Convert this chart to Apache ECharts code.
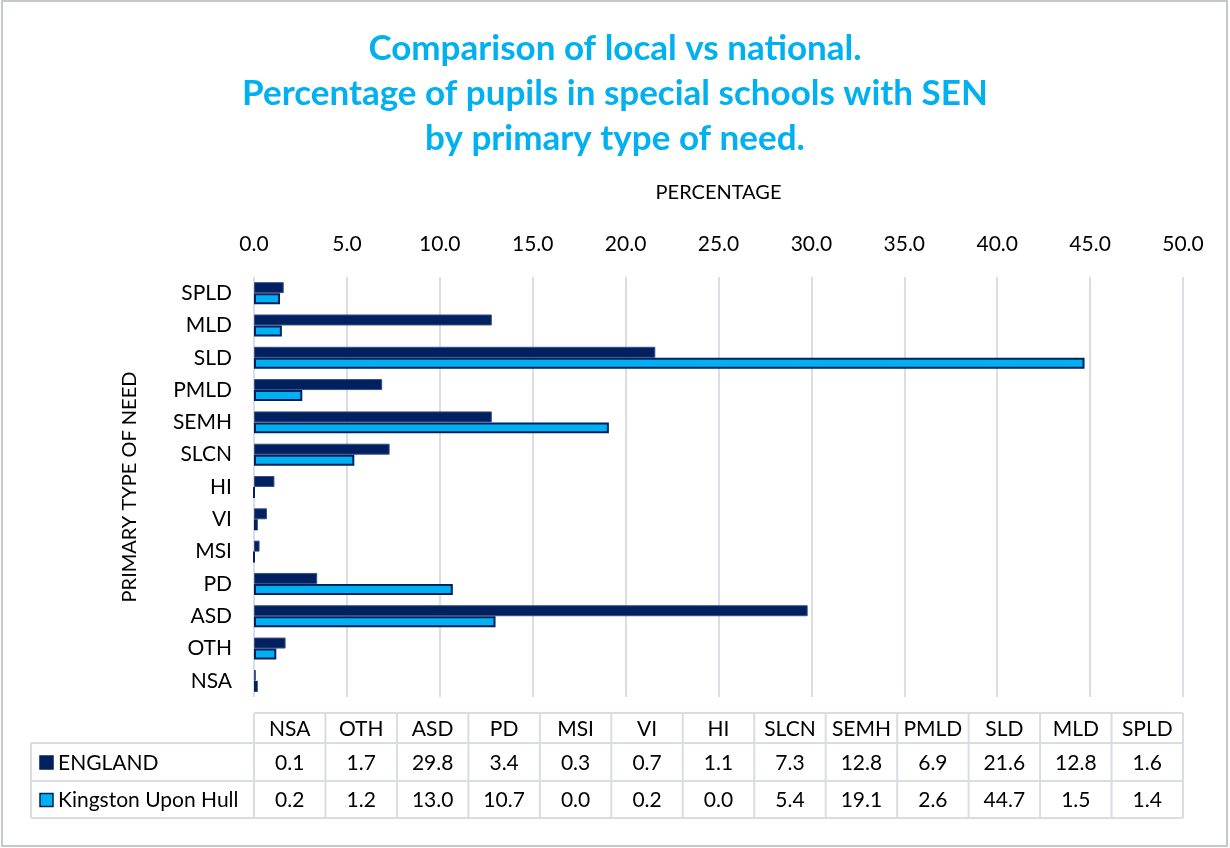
<!DOCTYPE html>
<html>
<head>
<meta charset="utf-8">
<script src="https://cdn.jsdelivr.net/npm/echarts@6/dist/echarts.min.js"></script>
<style>
  html, body { margin: 0; padding: 0; background: #fff; }
  #chart { width: 1230px; height: 848px; }
</style>
</head>
<body>
<div id="chart"></div>
<script>
// data
const categories = ['NSA', 'OTH', 'ASD', 'PD', 'MSI', 'VI', 'HI', 'SLCN', 'SEMH', 'PMLD', 'SLD', 'MLD', 'SPLD'];
const england = [0.1, 1.7, 29.8, 3.4, 0.3, 0.7, 1.1, 7.3, 12.8, 6.9, 21.6, 12.8, 1.6];
const hull = [0.2, 1.2, 13.0, 10.7, 0.0, 0.2, 0.0, 5.4, 19.1, 2.6, 44.7, 1.5, 1.4];
const seriesNames = ['ENGLAND', 'Kingston Upon Hull'];

const FONT = 'Lato, "Open Sans", sans-serif';
const DARK = '#002060';
const LIGHT = '#00B0F0';
const colors = [DARK, LIGHT];

// layout
const W = 1230, H = 848;
const gLeft = 254, gRight = 47, gTop = 277, gBottom = 151;
const plotW = W - gLeft - gRight;
const rowY = [713, 743, 781, 818];
const legendLeft = 31;

const chart = echarts.init(document.getElementById('chart'));

// data table under the plot, built from the arrays
function buildTable() {
  const els = [];
  const colW = plotW / categories.length;
  const lineStyle = { stroke: '#d9dde3', lineWidth: 2 };
  const rows = [england, hull];
  const font = '21px ' + FONT;
  // horizontal lines
  els.push({ type: 'line', shape: { x1: gLeft, y1: rowY[0], x2: gLeft + plotW, y2: rowY[0] }, style: lineStyle });
  for (let r = 1; r < rowY.length; r++) {
    els.push({ type: 'line', shape: { x1: legendLeft, y1: rowY[r], x2: gLeft + plotW, y2: rowY[r] }, style: lineStyle });
  }
  // vertical lines
  els.push({ type: 'line', shape: { x1: legendLeft, y1: rowY[1], x2: legendLeft, y2: rowY[3] }, style: lineStyle });
  for (let c = 0; c <= categories.length; c++) {
    const x = gLeft + c * colW;
    els.push({ type: 'line', shape: { x1: x, y1: rowY[0], x2: x, y2: rowY[3] }, style: lineStyle });
  }
  // header
  categories.forEach((cat, i) => {
    els.push({
      type: 'text', x: gLeft + (i + 0.5) * colW, y: (rowY[0] + rowY[1]) / 2 + 1,
      style: { text: cat, font: font, fill: '#000', align: 'center', verticalAlign: 'middle' }
    });
  });
  // value rows + legend keys
  rows.forEach((vals, r) => {
    const cy = (rowY[r + 1] + rowY[r + 2]) / 2 + 1;
    els.push({
      type: 'rect', shape: { x: 40, y: cy - 7, width: 13, height: 13 },
      style: { fill: colors[r], stroke: DARK, lineWidth: 1.5 }
    });
    els.push({
      type: 'text', x: 58, y: cy,
      style: { text: seriesNames[r], font: font, fill: '#000', align: 'left', verticalAlign: 'middle' }
    });
    vals.forEach((v, i) => {
      els.push({
        type: 'text', x: gLeft + (i + 0.5) * colW, y: cy,
        style: { text: v.toFixed(1), font: font, fill: '#000', align: 'center', verticalAlign: 'middle' }
      });
    });
  });
  // outer frame of the chart
  els.push({
    type: 'rect', shape: { x: 2, y: 1, width: W - 5, height: H - 3 },
    style: { fill: 'none', stroke: '#c4c8cc', lineWidth: 2 }, z: -1
  });
  return els;
}

const option = {
  backgroundColor: '#fff',
  animation: false,
  title: {
    text: 'Comparison of local vs national.\nPercentage of pupils in special schools with SEN\nby primary type of need.',
    left: 'center',
    top: 21,
    textStyle: { fontFamily: FONT, fontSize: 35, fontWeight: 'bold', color: LIGHT, lineHeight: 45 }
  },
  grid: { left: gLeft, right: gRight, top: gTop, bottom: gBottom, containLabel: false },
  xAxis: {
    type: 'value',
    position: 'top',
    min: 0, max: 50, interval: 5,
    name: 'PERCENTAGE',
    nameLocation: 'middle',
    nameGap: 74,
    nameTextStyle: { fontFamily: FONT, fontSize: 20, color: '#000' },
    axisLine: { show: false },
    axisTick: { show: false },
    axisLabel: { fontFamily: FONT, fontSize: 21, color: '#000', margin: 22, formatter: v => v.toFixed(1) },
    splitLine: { show: true, lineStyle: { color: '#dadde3', width: 2 } }
  },
  yAxis: {
    type: 'category',
    data: categories,
    name: 'PRIMARY TYPE OF NEED',
    nameLocation: 'middle',
    nameGap: 114,
    nameTextStyle: { fontFamily: FONT, fontSize: 20, color: '#000' },
    axisLine: { show: false },
    axisTick: { show: false },
    axisLabel: { fontFamily: FONT, fontSize: 21, color: '#000', margin: 22 },
    splitLine: { show: false }
  },
  series: [
    {
      name: seriesNames[0], type: 'bar', data: england,
      barGap: '0%', barCategoryGap: '32%',
      itemStyle: { color: DARK, borderColor: '#3a4f86', borderWidth: 1 }
    },
    {
      name: seriesNames[1], type: 'bar', data: hull,
      barGap: '0%', barCategoryGap: '32%',
      itemStyle: { color: LIGHT, borderColor: DARK, borderWidth: 2 }
    }
  ],
  graphic: buildTable()
};

chart.setOption(option);
</script>
</body>
</html>
